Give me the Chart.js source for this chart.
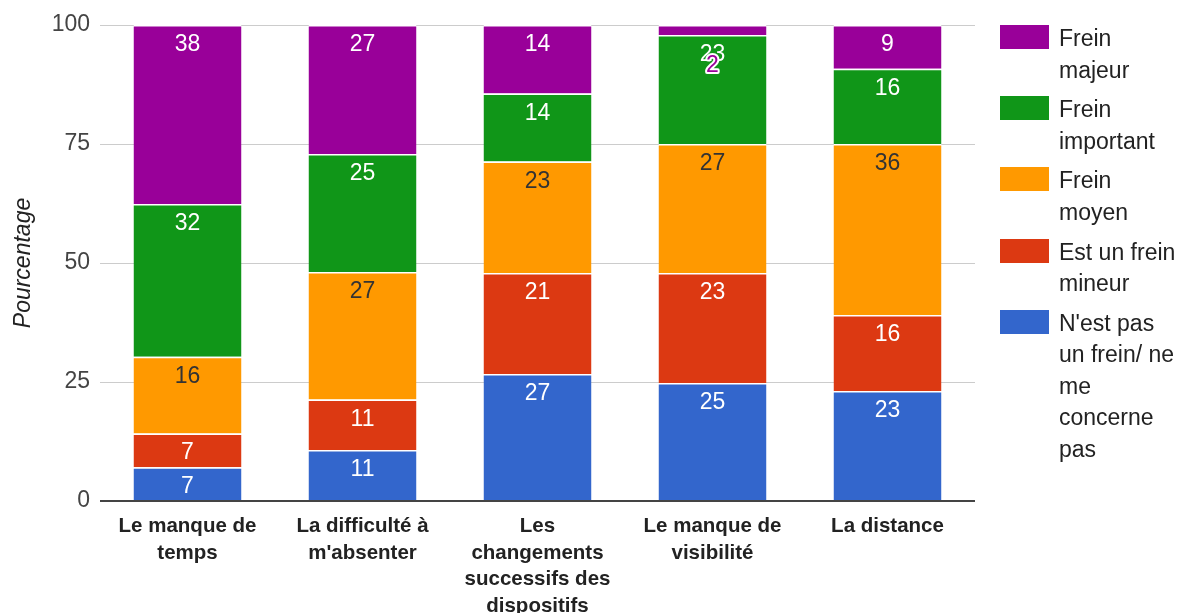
<!DOCTYPE html>
<html lang="fr">
<head>
<meta charset="utf-8">
<title>Freins</title>
<script src="https://cdn.jsdelivr.net/npm/chart.js@4.4.1/dist/chart.umd.min.js"></script>
<style>
  html, body { margin: 0; padding: 0; background: #fff; }
  #wrap { position: relative; width: 1186px; height: 613px; overflow: hidden; }
  #legend { position: absolute; left: 0; top: 0; font-family: "Liberation Sans", Arial, sans-serif; font-size: 23px; color: #222; }
  .item { position: absolute; left: 1000px; }
  .swatch { position: absolute; left: 0; top: 2px; width: 49px; height: 24px; }
  .text { margin-left: 59px; line-height: 31.5px; white-space: nowrap; }
</style>
</head>
<body>
<div id="wrap">
  <canvas id="chart"></canvas>
  <div id="legend"></div>
</div>
<script>
// categories (x axis, multi-line)
const categories = [
    ['Le manque de', 'temps'],
    ['La difficulté à', "m'absenter"],
    ['Les', 'changements', 'successifs des', 'dispositifs'],
    ['Le manque de', 'visibilité'],
    ['La distance']
];

// series, bottom to top (percent)
const pasUnFrein    = [7.1, 10.7, 26.7, 24.8, 23.1];
const freinMineur   = [7.1, 10.6, 21.2, 23.1, 16.0];
const freinMoyen    = [16.1, 26.8, 23.4, 27.1, 35.9];
const freinImportant = [32.1, 24.8, 14.3, 22.9, 15.8];
const freinMajeur   = [37.6, 27.1, 14.4, 2.1, 9.2];

const seriesNames = [
    ["N'est pas", 'un frein/ ne', 'me', 'concerne', 'pas'],
    ['Est un frein', 'mineur'],
    ['Frein', 'moyen'],
    ['Frein', 'important'],
    ['Frein', 'majeur']
];
const seriesColors = ['#3366cc', '#dc3912', '#ff9900', '#109618', '#990099'];
const labelColors = ['#ffffff', '#ffffff', '#333333', '#ffffff', '#ffffff'];

const yTicks = [0, 25, 50, 75, 100];

Chart.defaults.font.family = '"Liberation Sans", Arial, sans-serif';

const seriesData = [pasUnFrein, freinMineur, freinMoyen, freinImportant, freinMajeur];

// value labels drawn near the top of each segment
const valueLabels = {
    id: 'valueLabels',
    afterDatasetsDraw(chart) {
        const ctx = chart.ctx;
        ctx.save();
        ctx.font = '23px "Liberation Sans", Arial, sans-serif';
        ctx.textAlign = 'center';
        ctx.textBaseline = 'alphabetic';
        chart.data.datasets.forEach((ds, i) => {
            const meta = chart.getDatasetMeta(i);
            meta.data.forEach((bar, j) => {
                const txt = String(Math.round(ds.data[j]));
                const segTop = Math.min(bar.y, bar.base);
                const segBottom = Math.max(bar.y, bar.base);
                if (segBottom - segTop < 24) {
                    const y = segBottom + 37;
                    ctx.lineJoin = 'round';
                    ctx.lineWidth = 4;
                    ctx.strokeStyle = '#ffffff';
                    ctx.strokeText(txt, bar.x, y);
                    ctx.fillStyle = ds.backgroundColor;
                    ctx.fillText(txt, bar.x, y);
                } else {
                    ctx.fillStyle = labelColors[i];
                    ctx.fillText(txt, bar.x, segTop + 26);
                }
            });
        });
        ctx.restore();
    }
};

const chartCtx = document.getElementById('chart').getContext('2d');
new Chart(chartCtx, {
    type: 'bar',
    data: {
        labels: categories,
        datasets: seriesData.map((d, i) => ({
            label: seriesNames[i].join(' '),
            data: d,
            backgroundColor: seriesColors[i],
            borderColor: '#ffffff',
            borderWidth: { top: 1.5, right: 0, bottom: 0, left: 0 },
            borderSkipped: false,
            categoryPercentage: 1,
            barPercentage: 0.617
        }))
    },
    options: {
        responsive: true,
        maintainAspectRatio: false,
        animation: false,
        layout: { padding: { top: 25, right: 211, left: 0, bottom: 0 } },
        plugins: {
            legend: { display: false },
            tooltip: { enabled: false }
        },
        scales: {
            x: {
                stacked: true,
                grid: { display: false },
                border: { display: false },
                ticks: {
                    color: '#222',
                    font: { size: 20.5, weight: 'bold', lineHeight: 1.3 },
                    padding: 4,
                    maxRotation: 0,
                    autoSkip: false
                },
                afterFit(scale) { scale.height = 112; }
            },
            y: {
                stacked: true,
                min: 0,
                max: 100,
                afterBuildTicks(scale) { scale.ticks = yTicks.map(v => ({ value: v })); },
                grid: {
                    drawTicks: false,
                    color: c => c.tick && c.tick.value === 0 ? '#444' : '#cccccc',
                    lineWidth: c => c.tick && c.tick.value === 0 ? 2 : 1
                },
                border: { display: false },
                ticks: { color: '#444', font: { size: 23 }, padding: 10 },
                title: {
                    display: true,
                    text: 'Pourcentage',
                    color: '#222',
                    font: { size: 23, style: 'italic' },
                    padding: { top: 10, bottom: 0 }
                },
                afterFit(scale) { scale.width = 100; }
            }
        }
    },
    plugins: [valueLabels]
});

// legend, top to bottom = last series first
const legendBox = document.getElementById('legend');
let itemTop = 23;
for (let i = seriesNames.length - 1; i >= 0; i--) {
    const item = document.createElement('div');
    item.className = 'item';
    item.style.top = itemTop + 'px';
    const sw = document.createElement('span');
    sw.className = 'swatch';
    sw.style.background = seriesColors[i];
    const txt = document.createElement('div');
    txt.className = 'text';
    txt.innerHTML = seriesNames[i].join('<br>');
    item.appendChild(sw);
    item.appendChild(txt);
    legendBox.appendChild(item);
    itemTop += seriesNames[i].length * 31.5 + 8.2;
}
</script>
</body>
</html>
